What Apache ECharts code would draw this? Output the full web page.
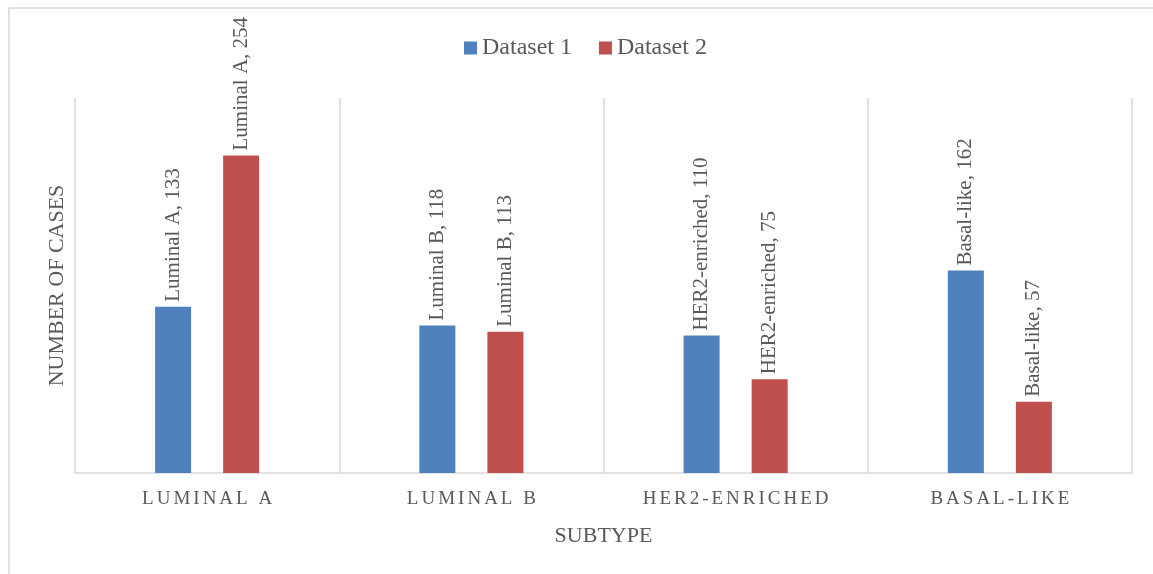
<!DOCTYPE html>
<html>
<head>
<meta charset="utf-8">
<script src="https://cdn.jsdelivr.net/npm/echarts@6/dist/echarts.min.js"></script>
<style>html,body{margin:0;padding:0;background:#fff}#c{width:1153px;height:574px}</style>
</head>
<body>
<div id="c"></div>
<script>
const categories = ['Luminal A', 'Luminal B', 'HER2-enriched', 'Basal-like'];
const dataset1 = [133, 118, 110, 162];
const dataset2 = [254, 113, 75, 57];
const seriesNames = ['Dataset 1', 'Dataset 2'];
const xTitle = 'SUBTYPE';
const yTitle = 'NUMBER OF CASES';

const FONT = '"Liberation Serif", "DejaVu Serif", serif';
const TXT = '#595959';
const GRID = '#d9d9d9';

const chart = echarts.init(document.getElementById('c'));
function spaced(v) {
  return v.toUpperCase().split('').map(ch => ch === ' ' ? '{sp|\u00a0}' : '{c|' + ch + '}').join('');
}
const labelCfg = {
  show: true, position: 'top', rotate: 90, align: 'left', verticalAlign: 'middle',
  distance: 5, formatter: '{b}, {c}', color: TXT, fontFamily: FONT, fontSize: 21
};
chart.setOption({
  animation: false,
  backgroundColor: '#fff',
  graphic: [{
    type: 'rect', silent: true,
    shape: { x: 9, y: 8, width: 1200, height: 600 },
    style: { fill: 'none', stroke: GRID, lineWidth: 1.5 }
  }],
  legend: {
    data: seriesNames, left: 464, top: 36, padding: 0, itemWidth: 13, itemHeight: 13, itemGap: 27,
    icon: 'rect',
    textStyle: { color: TXT, fontFamily: FONT, fontSize: 24 }
  },
  grid: { left: 75, right: 21, top: 98, bottom: 101, containLabel: false },
  xAxis: {
    type: 'category', data: categories, boundaryGap: true,
    name: xTitle, nameLocation: 'middle', nameGap: 52,
    nameTextStyle: { color: TXT, fontFamily: FONT, fontSize: 22 },
    axisLine: { show: true, lineStyle: { color: GRID, width: 1.5 } },
    axisTick: { show: false },
    splitLine: { show: true, interval: 0, lineStyle: { color: GRID, width: 1.5 } },
    axisLabel: {
      interval: 0, margin: 17, formatter: spaced,
      rich: {
        c: { color: TXT, fontFamily: FONT, fontSize: 19, padding: [0, 1.5, 0, 1.5] },
        sp: { color: TXT, fontFamily: FONT, fontSize: 19, padding: [0, 1.5, 0, 1.5] }
      }
    }
  },
  yAxis: {
    type: 'value', min: 0, max: 300, interval: 50,
    name: yTitle, nameLocation: 'middle', nameGap: 7,
    nameTextStyle: { color: TXT, fontFamily: FONT, fontSize: 22 },
    axisLine: { show: false }, axisTick: { show: false }, axisLabel: { show: false },
    splitLine: { show: false }
  },
  series: [
    { name: seriesNames[0], type: 'bar', data: dataset1, barWidth: 36, barGap: '89%',
      itemStyle: { color: '#4F81BD' }, label: labelCfg },
    { name: seriesNames[1], type: 'bar', data: dataset2, barWidth: 36, barGap: '89%',
      itemStyle: { color: '#C0504D' }, label: labelCfg }
  ]
});
</script>
</body>
</html>
